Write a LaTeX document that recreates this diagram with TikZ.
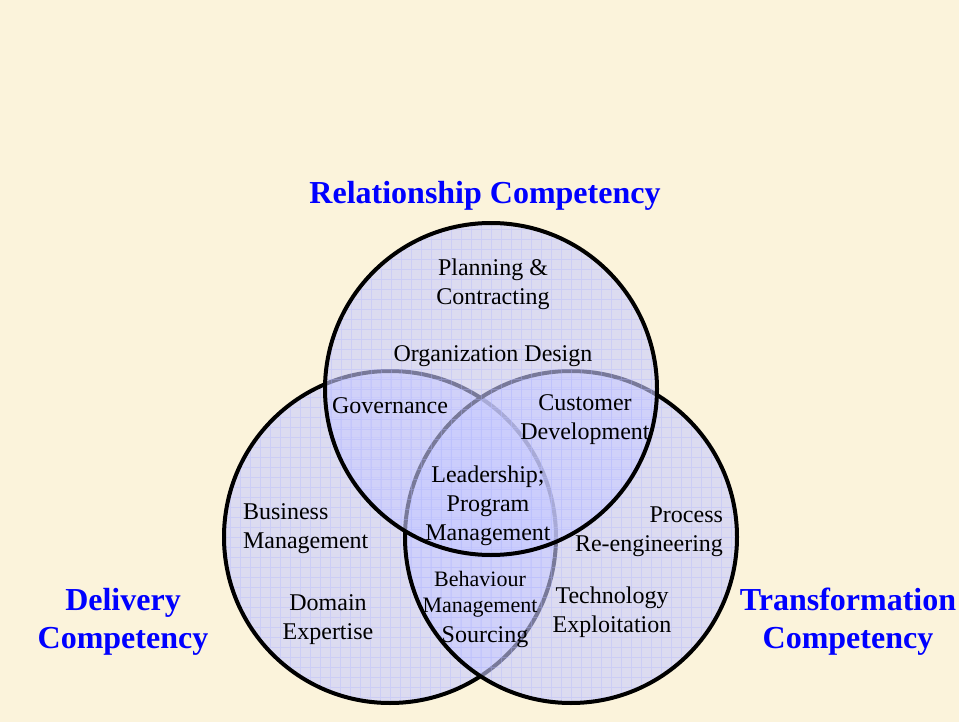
\documentclass[tikz,border=0pt]{standalone}
\usepackage{fontspec}
\setmainfont{Liberation Serif}
\definecolor{parchment}{RGB}{251,243,219}
\definecolor{lavender}{RGB}{200,203,255}
\definecolor{gridblue}{RGB}{175,180,255}
\definecolor{titleblue}{RGB}{0,0,255}
\usetikzlibrary{positioning}

\begin{document}
\begin{tikzpicture}[x=0.5pt,y=-0.5pt,
    every node/.style={align=center,font=\fontsize{12}{14.5}\selectfont},
    ring/.style={circle,draw,line width=2pt,inner sep=0pt,minimum size=166pt,
        fill=lavender,fill opacity=0.6,
        path picture={\draw[gridblue,line width=0.35pt,draw opacity=0.35]
            (path picture bounding box.south west) grid[step=5pt]
            (path picture bounding box.north east);}},
    title/.style={font=\fontsize{16}{19}\selectfont\bfseries,text=titleblue},
    small/.style={font=\fontsize{11}{13}\selectfont}
    ]

    % paper
    \fill[parchment] (0,0) rectangle (959,722);
    \useasboundingbox (0,0) rectangle (959,722);

    % the three competencies
    \node (del) [ring] at (390,537) {};
    \node (tra) [ring] at (571,537) {};
    \node (rel) [ring] at (491,389) {};

    % titles
    \node (reltitle) [title] at (485,196) {Relationship Competency};
    \node (deltitle) [title] at (123,622) {Delivery\\Competency};
    \node (tratitle) [title] at (848,622) {Transformation\\Competency};

    % what goes in each region
    \node (plan) at (493,284) {Planning \&\\Contracting};
    \node (org) at (493,356) {Organization Design};
    \node (gov) at (390,406) {Governance};
    \node (cust) at (585,420) {Customer\\Development};
    \node (lead) at (488,506) {Leadership;\\Program\\Management};
    \node (bus) [align=left,anchor=west] at (236,529) {Business\\Management};
    \node (proc) [align=right,anchor=east] at (730,532) {Process\\Re-engineering};
    \node (beh) [small] at (480,594) {Behaviour\\Management};
    \node (src) at (485,637) {Sourcing};
    \node (dom) at (328,620) {Domain\\Expertise};
    \node (tech) at (612,612) {Technology\\Exploitation};
\end{tikzpicture}
\end{document}
